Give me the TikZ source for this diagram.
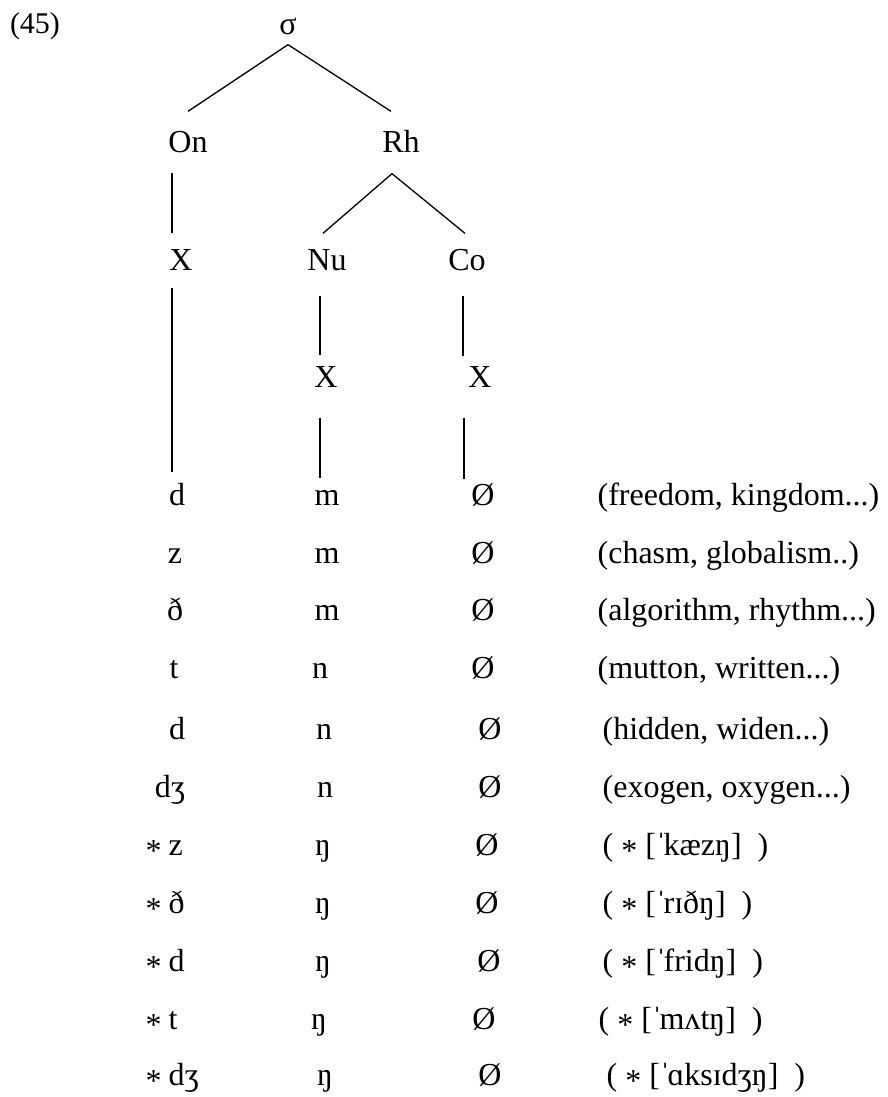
\documentclass[tikz,border=0pt]{standalone}
\usepackage{fontspec}
\setmainfont{Liberation Serif}
\newcommand{\starmark}{\raisebox{-6pt}[\height][0pt]{*}}
\newcommand{\stress}{ˈ\kern-3pt}

\begin{document}
\begin{tikzpicture}[x=1pt,y=-1pt,line width=1.3pt]
  \tikzstyle{lbl}=[inner sep=0pt,anchor=base,text height=22pt,text depth=0pt,font=\fontsize{32}{38}\selectfont]
  \tikzstyle{starred}=[lbl,anchor=base west]
  \tikzstyle{gloss}=[inner sep=0pt,anchor=base west,text depth=0pt,font=\fontsize{32}{38}\selectfont]
  \useasboundingbox (0,0) rectangle (887,1097);
  \node[lbl,font=\fontsize{30}{36}\selectfont] (ex) at (35,34) {(45)};
  % syllable tree
  \node[lbl] (sig) at (288,35) {σ};
  \node[lbl] (on) at (188,153) {On};
  \node[lbl] (rh) at (401,153) {Rh};
  \node[lbl] (xo) at (181,270) {X};
  \node[lbl] (nu) at (327,270) {Nu};
  \node[lbl] (co) at (467,270) {Co};
  \node[lbl] (xn) at (326,387) {X};
  \node[lbl] (xc) at (480,387) {X};
  % segments
  \node[lbl] (c1) at (177,505) {d};
  \node[lbl] (n1) at (327,505) {m};
  \node[lbl] (o1) at (483,505) {Ø};
  \node[gloss] (g1) at (597,505) {(freedom, kingdom...)};
  \node[lbl] (c2) at (175,563) {z};
  \node[lbl] (n2) at (327,563) {m};
  \node[lbl] (o2) at (483,563) {Ø};
  \node[gloss] (g2) at (597,563) {(chasm, globalism..)};
  \node[lbl] (c3) at (175,620) {ð};
  \node[lbl] (n3) at (327,620) {m};
  \node[lbl] (o3) at (483,620) {Ø};
  \node[gloss] (g3) at (597,620) {(algorithm, rhythm...)};
  \node[lbl] (c4) at (174,678) {t};
  \node[lbl] (n4) at (320,678) {n};
  \node[lbl] (o4) at (483,678) {Ø};
  \node[gloss] (g4) at (597,678) {(mutton, written...)};
  \node[lbl] (c5) at (177,739) {d};
  \node[lbl] (n5) at (324,739) {n};
  \node[lbl] (o5) at (490,739) {Ø};
  \node[gloss] (g5) at (602,739) {(hidden, widen...)};
  \node[lbl] (c6) at (170,797) {dʒ};
  \node[lbl] (n6) at (325,797) {n};
  \node[lbl] (o6) at (490,797) {Ø};
  \node[gloss] (g6) at (602,797) {(exogen, oxygen...)};
  \node[starred] (c7) at (145,855) {\starmark\kern7pt z};
  \node[lbl] (n7) at (323,855) {ŋ};
  \node[lbl] (o7) at (487,855) {Ø};
  \node[gloss] (g7) at (602,855) {( \starmark\ [\stress kæzŋ] \ )};
  \node[starred] (c8) at (145,913) {\starmark\kern7pt ð};
  \node[lbl] (n8) at (323,913) {ŋ};
  \node[lbl] (o8) at (487,913) {Ø};
  \node[gloss] (g8) at (602,913) {( \starmark\ [\stress rɪðŋ] \ )};
  \node[starred] (c9) at (145,971) {\starmark\kern7pt d};
  \node[lbl] (n9) at (323,971) {ŋ};
  \node[lbl] (o9) at (489,971) {Ø};
  \node[gloss] (g9) at (602,971) {( \starmark\ [\stress fridŋ] \ )};
  \node[starred] (c10) at (145,1029) {\starmark\kern7pt t};
  \node[lbl] (n10) at (319,1029) {ŋ};
  \node[lbl] (o10) at (484,1029) {Ø};
  \node[gloss] (g10) at (598,1029) {( \starmark\ [\stress mʌtŋ] \ )};
  \node[starred] (c11) at (145,1085) {\starmark\kern7pt dʒ};
  \node[lbl] (n11) at (325,1085) {ŋ};
  \node[lbl] (o11) at (490,1085) {Ø};
  \node[gloss] (g11) at (606,1085) {( \starmark\ [\stress ɑksɪdʒŋ] \ )};
  % association lines
  \draw ([yshift=-9]sig.south) -- ([yshift=19]on.north);
  \draw ([yshift=-9]sig.south) -- ([xshift=-10,yshift=19]rh.north);
  \draw ([xshift=-16,yshift=-19]on.south) -- ([xshift=-9,yshift=14]xo.north);
  \draw ([xshift=-9,yshift=-20]rh.south) -- ([xshift=-4,yshift=14]nu.north);
  \draw ([xshift=-9,yshift=-20]rh.south) -- ([xshift=-2,yshift=14]co.north);
  \draw ([xshift=-9,yshift=-17]xo.south) -- ([xshift=-5,yshift=10]c1.north);
  \draw ([xshift=-7,yshift=-25]nu.south) -- ([xshift=-6,yshift=9]xn.north);
  \draw ([xshift=-6,yshift=-30]xn.south) -- ([xshift=-7,yshift=4]n1.north);
  \draw ([xshift=-4,yshift=-25]co.south) -- ([xshift=-17,yshift=8]xc.north);
  \draw ([xshift=-16,yshift=-30]xc.south) -- ([xshift=-19,yshift=3]o1.north);
\end{tikzpicture}
\end{document}
